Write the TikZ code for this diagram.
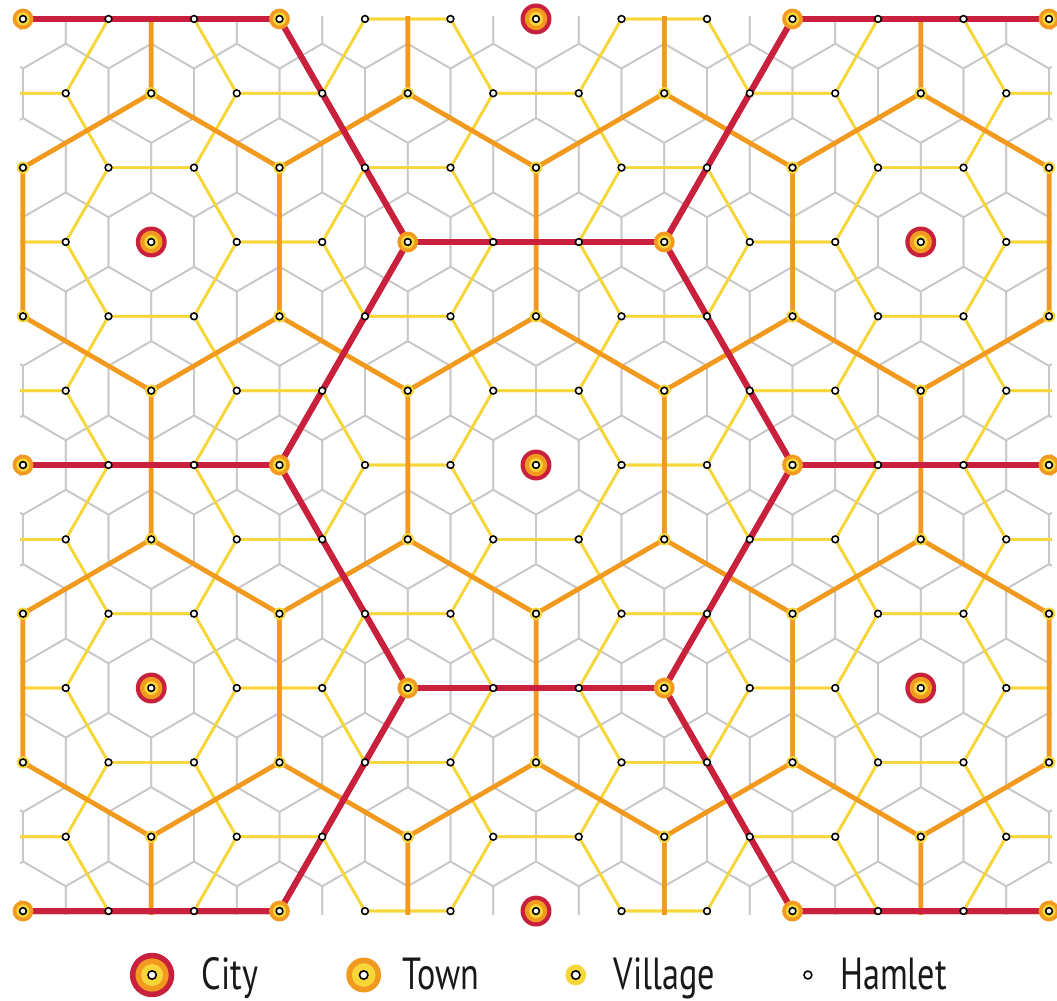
\documentclass[tikz,border=0pt]{standalone}
\usepackage{fontspec}
\newfontfamily\keyfont[FakeStretch=0.76]{PT Sans}
\usetikzlibrary{positioning}
\definecolor{Crim} {HTML}{C9213D}
\definecolor{Orng} {HTML}{F29A1F}
\definecolor{Yelw} {HTML}{F7D63A}
\definecolor{LGray}{HTML}{C8C8C8}
\tikzset{
  hamln/.style={draw=LGray, line width=1.2pt, line join=round},
  villln/.style={draw=Yelw, line width=1.9pt, line join=round},
  townln/.style={draw=Orng, line width=3.2pt, line join=round},
  cityln/.style={draw=Crim, line width=4.2pt, line join=round},
  core/.style={fill=white, draw=black, line width=1.1pt},
  hammk/.pic={\path[core] (0,0) circle[radius=2.4pt];},
  villmk/.pic={\fill[Yelw] (0,0) circle[radius=4.4pt];
    \path[core] (0,0) circle[radius=2.4pt];},
  townmk/.pic={\fill[Orng] (0,0) circle[radius=7.4pt];
    \fill[Yelw] (0,0) circle[radius=4.7pt];
    \path[core] (0,0) circle[radius=2.4pt];},
  citymk/.pic={\fill[Crim] (0,0) circle[radius=11pt];
    \fill[Orng] (0,0) circle[radius=8pt];
    \fill[Yelw] (0,0) circle[radius=4.9pt];
    \path[core] (0,0) circle[radius=2.4pt];},
  keytxt/.style={font=\keyfont\fontsize{32}{36}\selectfont,
    anchor=base west, inner sep=0pt, text=black!90},
}
\begin{document}
\begin{tikzpicture}[x=1.06875cm,y=0.6195cm]
  \useasboundingbox (-12.538,-21.59) rectangle (12.187,18.765);
  \begin{scope}
    \clip ([xshift=-2.1pt,yshift=-2.1pt]-12,-18) rectangle ([xshift=2.1pt,yshift=2.1pt]12,18);
    \foreach \r in {-7,...,7}{
      \foreach \c in {-7,...,7}{
        \pgfmathtruncatemacro\xx{2*\c+mod(abs(\r),2)}
        \pgfmathtruncatemacro\yy{3*\r}
        \draw[hamln] (\xx,\yy) ++(0,2) -- ++(1,-1) -- ++(0,-2) -- ++(-1,-1) -- ++(-1,1) -- ++(0,2) -- cycle;
      }
    }
    \foreach \c in {-5,...,5}{
      \foreach \r in {-4,...,4}{
        \pgfmathtruncatemacro\xx{3*\c}
        \pgfmathtruncatemacro\yy{6*\r+3*mod(abs(\c),2)}
        \draw[villln] (\xx,\yy) ++(2,0) -- ++(-1,3) -- ++(-2,0) -- ++(-1,-3) -- ++(1,-3) -- ++(2,0) -- cycle;
      }
    }
    \foreach \r in {-2,...,2}{
      \foreach \c in {-3,...,3}{
        \pgfmathtruncatemacro\xx{6*\c+3*mod(abs(\r),2)}
        \pgfmathtruncatemacro\yy{9*\r}
        \draw[townln] (\xx,\yy) ++(0,6) -- ++(3,-3) -- ++(0,-6) -- ++(-3,-3) -- ++(-3,3) -- ++(0,6) -- cycle;
      }
    }
    \foreach \c in {-2,...,2}{
      \foreach \r in {-2,...,2}{
        \pgfmathtruncatemacro\xx{9*\c}
        \pgfmathtruncatemacro\yy{18*\r+9*mod(abs(\c),2)}
        \draw[cityln] (\xx,\yy) ++(6,0) -- ++(-3,9) -- ++(-6,0) -- ++(-3,-9) -- ++(3,-9) -- ++(6,0) -- cycle;
      }
    }
  \end{scope}

  \foreach \r in {-6,...,6}{
    \foreach \c in {-6,...,6}{
      \pgfmathtruncatemacro\xx{2*\c+mod(abs(\r),2)}
      \pgfmathtruncatemacro\yy{3*\r}
      \pgfmathtruncatemacro\ok{abs(\xx)<=12}
      \pgfmathtruncatemacro\lv{and(mod(\xx,3)==0,mod(\yy-(\xx),6)==0)
        +and(mod(\yy,9)==0,mod(\xx-(\yy)/3,6)==0)
        +and(mod(\xx,9)==0,mod(\yy-(\xx),18)==0)}
      \ifnum\ok=1
        \ifcase\lv \pic at (\xx,\yy) {hammk};
        \or \pic at (\xx,\yy) {villmk};
        \or \pic at (\xx,\yy) {townmk};
        \or \pic at (\xx,\yy) {citymk};
        \fi
      \fi
    }
  }

  \coordinate (citykey) at (-8.98,-20.58);
  \coordinate (townkey) at (-4.03,-20.58);
  \coordinate (villkey) at (0.93,-20.58);
  \coordinate (hamkey)  at (6.36,-20.58);
  \fill[Crim] (citykey) circle[radius=15.8pt];
  \fill[Orng] (citykey) circle[radius=11.8pt];
  \fill[Yelw] (citykey) circle[radius=7.8pt];
  \path[core] (citykey) circle[radius=3pt];
  \fill[Orng] (townkey) circle[radius=12.4pt];
  \fill[Yelw] (townkey) circle[radius=8.4pt];
  \path[core] (townkey) circle[radius=3pt];
  \fill[Yelw] (villkey) circle[radius=7.4pt];
  \path[core] (villkey) circle[radius=3pt];
  \path[core] (hamkey) circle[radius=2.8pt];
  \node[keytxt] (citylbl) at (-7.82,-21.15) {City};
  \node[keytxt] (townlbl) at (-3.12,-21.15) {Town};
  \node[keytxt] (villlbl) at (1.81,-21.15)  {Village};
  \node[keytxt] (hamlbl)  at (7.11,-21.15)  {Hamlet};
\end{tikzpicture}
\end{document}
